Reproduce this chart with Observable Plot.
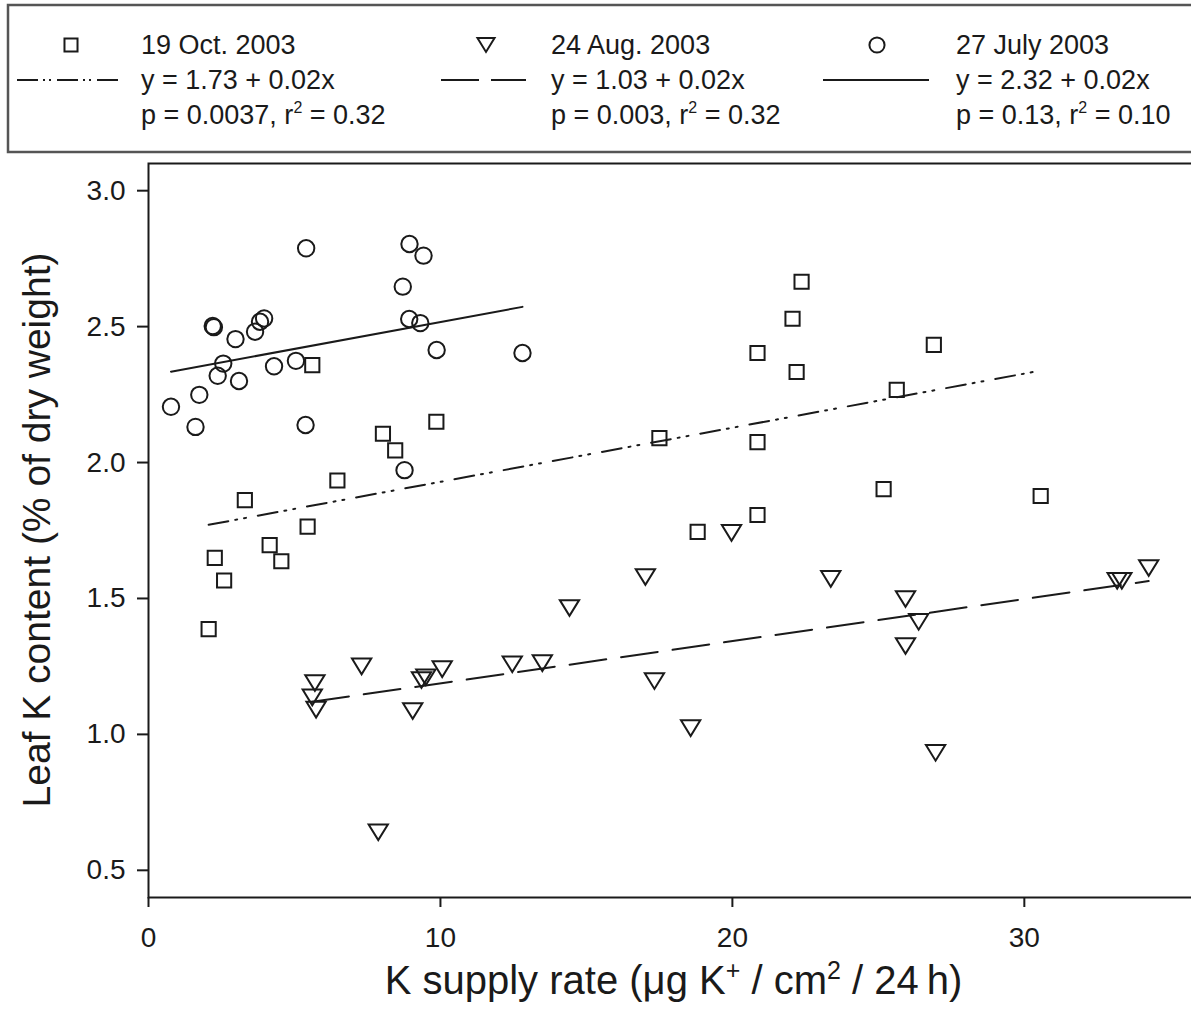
<!DOCTYPE html>
<html><head><meta charset="utf-8">
<script src="https://cdn.jsdelivr.net/npm/d3@7"></script>
<script src="https://cdn.jsdelivr.net/npm/@observablehq/plot@0.6"></script>
<style>
html,body{margin:0;padding:0;background:#fff;overflow:hidden;width:1191px;height:1013px}
#wrap{width:1199px;font-family:"Liberation Sans",Arial,sans-serif}
#wrap svg{display:block;max-width:none}
</style></head><body><div id="wrap"></div>
<script>
// ---------- data ----------
const seriesNames = ["19 Oct. 2003", "24 Aug. 2003", "27 July 2003"];

const octX = [2.06, 2.27, 2.59, 3.30, 4.15, 4.55, 5.45, 5.61, 6.47, 8.03, 8.45, 9.86,
              17.50, 18.81, 20.86, 20.86, 20.86, 22.06, 22.20, 22.37, 25.18, 25.63, 26.90, 30.56];
const octY = [1.387, 1.649, 1.566, 1.862, 1.696, 1.637, 1.764, 2.358, 1.934, 2.106, 2.045, 2.150,
              2.090, 1.745, 2.403, 2.075, 1.807, 2.529, 2.333, 2.665, 1.902, 2.267, 2.433, 1.877];

const augX = [5.70, 5.61, 5.74, 7.30, 7.87, 9.05, 9.35, 9.50, 10.06, 12.46, 13.49, 14.42,
              17.02, 17.33, 18.57, 19.97, 23.37, 25.93, 25.93, 26.38, 26.96, 33.18, 33.34, 34.26];
const augY = [1.189, 1.136, 1.091, 1.250, 0.640, 1.086, 1.200, 1.210, 1.240, 1.258, 1.262, 1.465,
              1.579, 1.196, 1.023, 1.741, 1.572, 1.498, 1.325, 1.414, 0.932, 1.565, 1.565, 1.612];

const julX = [0.77, 1.61, 1.74, 2.20, 2.24, 2.37, 2.56, 2.98, 3.10, 3.65, 3.82, 3.96,
              4.30, 5.05, 5.40, 5.38, 8.71, 8.94, 9.42, 8.93, 9.31, 9.87, 12.81, 8.77];
const julY = [2.205, 2.131, 2.249, 2.502, 2.498, 2.319, 2.364, 2.454, 2.300, 2.481, 2.518, 2.530,
              2.354, 2.374, 2.788, 2.138, 2.647, 2.804, 2.761, 2.528, 2.513, 2.414, 2.403, 1.972];

// regression fits (intercept, slope) per series
const fitIntercept = [1.73, 1.033, 2.319];
const fitSlope = [0.0199, 0.0155, 0.0198];
const eqLabels = ["y = 1.73 + 0.02x", "y = 1.03 + 0.02x", "y = 2.32 + 0.02x"];
const pLabels = ["0.0037", "0.003", "0.13"];
const r2Labels = ["0.32", "0.32", "0.10"];

const xTicks = [0, 10, 20, 30];
const yTicks = [0.5, 1.0, 1.5, 2.0, 2.5, 3.0];
const xDomain = [0, 36];
const yDomain = [0.4, 3.1];

// ---------- helpers ----------
const FONT = '"Liberation Sans", Arial, sans-serif';
const INK = "#1a1a1a";
const triangleDown = {
  draw(ctx, size) {
    const r = Math.sqrt(size / Math.PI);
    const w = r * 1.07, h = r * 0.87;
    ctx.moveTo(-w, -h); ctx.lineTo(w, -h); ctx.lineTo(0, h); ctx.closePath();
  }
};
const pts = (xs, ys) => xs.map((x, i) => ({x, y: ys[i]}));
const fitLine = (xs, k) => {
  const [x0, x1] = d3.extent(xs);
  return [x0, x1].map(x => ({x, y: fitIntercept[k] + fitSlope[k] * x}));
};
const dashes = ["20,7,2,7,2,12", "37,15", null];
const legendDashes = ["21,5,2,4,2,6", "38,12", null];
const symbols = ["square", triangleDown, "circle"];
const rs = [8, 9, 8.2];

const seriesXs = [octX, augX, julX];
const seriesYs = [octY, augY, julY];

// ---------- legend ----------
const LEG_H = 158;
const wrap = d3.select("#wrap");
const leg = wrap.append("svg").attr("width", 1199).attr("height", LEG_H)
  .style("font-family", FONT);
leg.append("rect").attr("x", 8).attr("y", 5).attr("width", 1400).attr("height", 147)
  .attr("fill", "none").attr("stroke", "#555").attr("stroke-width", 2.5);

const symX = [71, 486, 877], lineX0 = [17, 441, 823], lineX1 = [123, 526, 929], textX = [141, 551, 956];
const symSize = [170, 200, 180];
for (let k = 0; k < 3; k++) {
  const symType = k === 0 ? d3.symbolSquare : k === 1 ? triangleDown : d3.symbolCircle;
  leg.append("path").attr("d", d3.symbol(symType, symSize[k])())
    .attr("transform", `translate(${symX[k]},45)`)
    .attr("fill", "none").attr("stroke", INK).attr("stroke-width", 2);
  const ln = leg.append("line").attr("x1", lineX0[k]).attr("x2", lineX1[k])
    .attr("y1", 80).attr("y2", 80).attr("stroke", INK).attr("stroke-width", 2.2);
  if (legendDashes[k]) ln.attr("stroke-dasharray", legendDashes[k]);
  const t = (y) => leg.append("text").attr("x", textX[k]).attr("y", y)
    .attr("font-size", 27).attr("fill", INK);
  t(54).text(seriesNames[k]);
  t(89).text(eqLabels[k]);
  const t3 = t(124);
  t3.append("tspan").text(`p = ${pLabels[k]}, r`);
  t3.append("tspan").attr("dy", -11).attr("font-size", 16).text("2");
  t3.append("tspan").attr("dy", 11).text(` = ${r2Labels[k]}`);
}

// ---------- plot ----------
const marks = [
  Plot.frame({stroke: INK, strokeWidth: 2}),
  Plot.axisX({ticks: xTicks, tickSize: 10, tickPadding: 20, fontSize: 28, label: null, strokeWidth: 2, fill: INK}),
  Plot.axisY({ticks: yTicks, tickSize: 11, tickPadding: 12, fontSize: 28, label: null, strokeWidth: 2, fill: INK,
              tickFormat: d3.format(".1f")})
];
for (let k = 0; k < 3; k++) {
  const opts = {x: "x", y: "y", stroke: INK, strokeWidth: 2};
  if (dashes[k]) opts.strokeDasharray = dashes[k];
  marks.push(Plot.line(fitLine(seriesXs[k], k), opts));
}
for (let k = 0; k < 3; k++) {
  marks.push(Plot.dot(pts(seriesXs[k], seriesYs[k]), {
    x: "x", y: "y", symbol: symbols[k], r: rs[k], stroke: INK, strokeWidth: 2, fill: "none"
  }));
}

const chart = Plot.plot({
  width: 1199, height: 855,
  marginLeft: 148, marginRight: 0, marginTop: 5, marginBottom: 116,
  style: {fontFamily: FONT, color: INK, background: "white", maxWidth: "none"},
  x: {domain: xDomain},
  y: {domain: yDomain},
  marks
});
chart.style.maxWidth = "none";
wrap.node().appendChild(chart);

// axis titles
const svg = d3.select(chart);
const xt = svg.append("text").attr("x", (148 + 1199) / 2).attr("y", 836)
  .attr("text-anchor", "middle").attr("font-size", 40).attr("fill", INK).style("font-family", FONT);
xt.append("tspan").text("K supply rate (μg K");
xt.append("tspan").attr("dy", -15).attr("font-size", 25).text("+");
xt.append("tspan").attr("dy", 15).text(" / cm");
xt.append("tspan").attr("dy", -15).attr("font-size", 25).text("2");
xt.append("tspan").attr("dy", 15).text(" / 24\u2009h)");

svg.append("text").attr("transform", `translate(50,${5 + 734 / 2}) rotate(-90)`)
  .attr("text-anchor", "middle").attr("font-size", 39).attr("fill", INK).style("font-family", FONT)
  .text("Leaf K content (% of dry weight)");
</script></body></html>
